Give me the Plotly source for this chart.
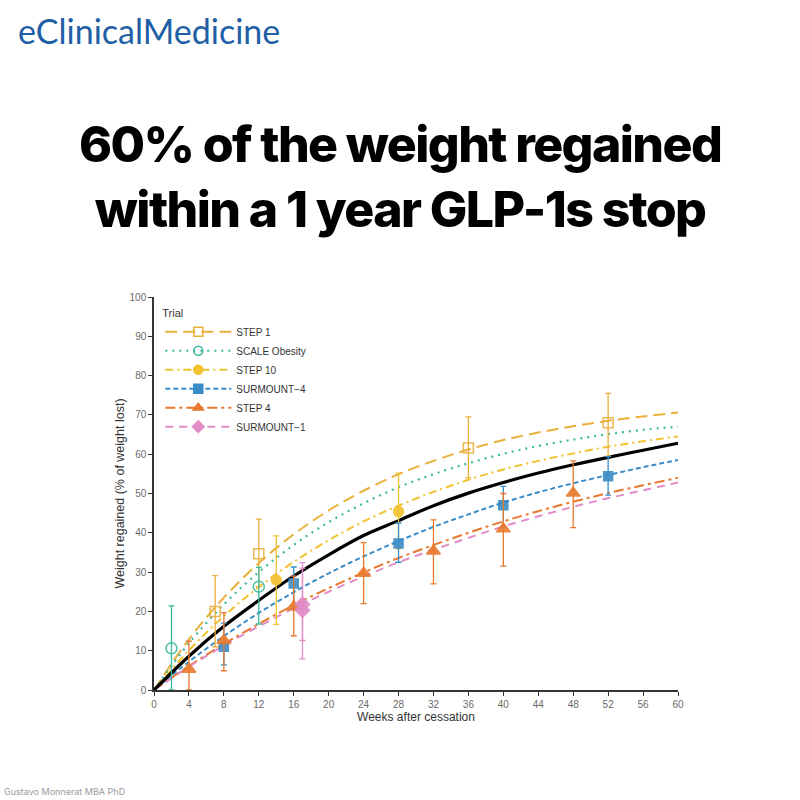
import plotly.graph_objects as go

# ---------------- data ----------------
weeks_grid = [0, 4, 8, 12, 16, 20, 24, 28, 32, 36, 40, 44, 48, 52, 56, 60]

# fitted curves
curve_step1 = [0, 12.9, 23.5, 32.3, 39.6, 45.7, 50.7, 54.9, 58.3, 61.2, 63.6, 65.5, 67.1, 68.5, 69.6, 70.6]
curve_scale = [0, 11.9, 21.8, 30.0, 36.9, 42.7, 47.5, 51.6, 54.9, 57.7, 60.1, 62.1, 63.7, 65.1, 66.2, 67.0]
curve_step10 = [0, 10.1, 18.8, 26.2, 32.6, 38.1, 42.9, 46.9, 50.4, 53.5, 56.1, 58.3, 60.2, 61.9, 63.3, 64.5]
curve_surmount4 = [0, 7.2, 13.7, 19.6, 24.9, 29.7, 34.0, 37.9, 41.5, 44.7, 47.7, 50.3, 52.6, 54.7, 56.7, 58.5]
curve_step4 = [0, 6.1, 11.7, 16.8, 21.6, 25.9, 29.9, 33.6, 36.9, 40.0, 42.9, 45.5, 47.9, 50.1, 52.1, 54.0]
curve_surmount1 = [0, 5.9, 11.3, 16.2, 20.8, 25.0, 28.9, 32.5, 35.7, 38.7, 41.6, 44.2, 46.6, 48.8, 50.8, 52.8]
curve_pooled = [0, 8.6, 16.2, 22.8, 29.0, 34.4, 39.3, 43.1, 46.9, 50.1, 52.8, 55.2, 57.3, 59.2, 61.0, 62.8]

# observed points (week, mean, lower, upper)
step1_wk = [7, 12, 36, 52]
step1_y = [20.0, 34.7, 61.6, 68.0]
step1_lo = [11.0, 26.3, 54.0, 59.5]
step1_hi = [29.1, 43.5, 69.5, 75.5]

scale_wk = [2, 12]
scale_y = [10.6, 26.3]
scale_lo = [0.0, 16.8]
scale_hi = [21.4, 31.2]

step10_wk = [14, 28]
step10_y = [28.0, 45.4]
step10_lo = [16.7, 36.0]
step10_hi = [39.2, 55.2]

surmount4_wk = [8, 16, 28, 40, 52]
surmount4_y = [11.0, 27.1, 37.3, 47.0, 54.4]
surmount4_lo = [6.4, 20.5, 32.5, 41.5, 49.6]
surmount4_hi = [17.0, 31.3, 42.5, 51.8, 59.4]

step4_wk = [4, 8, 16, 24, 32, 40, 48]
step4_y = [5.3, 12.6, 21.2, 29.7, 35.4, 41.0, 50.1]
step4_lo = [0.0, 4.9, 13.8, 22.0, 27.0, 31.5, 41.3]
step4_hi = [12.4, 19.7, 29.0, 37.5, 43.3, 50.0, 58.3]

surmount1_wk = [17, 17]
surmount1_y = [21.8, 20.3]
surmount1_lo = [12.6, 7.9]
surmount1_hi = [31.0, 32.4]

trial_names = ["STEP 1", "SCALE Obesity", "STEP 10", "SURMOUNT\u22124", "STEP 4", "SURMOUNT\u22121"]
x_ticks = list(range(0, 61, 4))
y_ticks = list(range(0, 101, 10))

title_line1 = "60% of the weight regained"
title_line2 = "within a 1 year GLP-1s stop"
brand = "eClinicalMedicine"
author = "Gustavo Monnerat MBA PhD"

# ---------------- styles ----------------
series = [
    dict(name=trial_names[0], curve=curve_step1, wk=step1_wk, y=step1_y, lo=step1_lo, hi=step1_hi,
         color="#E9B03C", dash="12px,6px", symbol="square-open", msize=10, lw=2),
    dict(name=trial_names[1], curve=curve_scale, wk=scale_wk, y=scale_y, lo=scale_lo, hi=scale_hi,
         color="#3DB89C", dash="2px,5px", symbol="circle-open", msize=11, lw=2.2),
    dict(name=trial_names[2], curve=curve_step10, wk=step10_wk, y=step10_y, lo=step10_lo, hi=step10_hi,
         color="#F2C12E", dash="8px,4px,2px,4px", symbol="circle", msize=10, lw=2),
    dict(name=trial_names[3], curve=curve_surmount4, wk=surmount4_wk, y=surmount4_y, lo=surmount4_lo, hi=surmount4_hi,
         color="#3A8CC6", dash="5px,3px", symbol="square", msize=9, lw=2),
    dict(name=trial_names[4], curve=curve_step4, wk=step4_wk, y=step4_y, lo=step4_lo, hi=step4_hi,
         color="#E8792E", dash="10px,4px,3px,4px", symbol="triangle-up", msize=12, lw=2),
    dict(name=trial_names[5], curve=curve_surmount1, wk=surmount1_wk, y=surmount1_y, lo=surmount1_lo, hi=surmount1_hi,
         color="#E18CC6", dash="8px,6px", symbol="diamond", msize=11, lw=2),
]

fig = go.Figure()

# curves
for s in series:
    fig.add_trace(go.Scatter(x=weeks_grid, y=s["curve"], mode="lines", line_shape="spline",
                             line=dict(color=s["color"], width=s["lw"], dash=s["dash"]),
                             showlegend=False, hoverinfo="skip"))

fig.add_trace(go.Scatter(x=weeks_grid, y=curve_pooled, mode="lines", line_shape="spline",
                         line=dict(color="#000000", width=3.2), showlegend=False))

# points with error bars
for s in series:
    plus = [h - m for h, m in zip(s["hi"], s["y"])]
    minus = [m - l for m, l in zip(s["y"], s["lo"])]
    fig.add_trace(go.Scatter(x=s["wk"], y=s["y"], mode="markers",
                             marker=dict(color=s["color"], size=s["msize"], symbol=s["symbol"],
                                         line=dict(color=s["color"], width=1.5), opacity=0.9),
                             error_y=dict(type="data", array=plus, arrayminus=minus, color=s["color"],
                                          thickness=1.3, width=3),
                             showlegend=False, cliponaxis=False))

# legend entries
for s in series:
    fig.add_trace(go.Scatter(x=[None], y=[None], mode="lines+markers", name=s["name"],
                             line=dict(color=s["color"], width=2, dash=s["dash"]),
                             marker=dict(color=s["color"], size=9, symbol=s["symbol"],
                                         line=dict(color=s["color"], width=1.5))))

axis_font = dict(family="Liberation Sans, Arial, sans-serif", size=10, color="#6a6a6a")

fig.update_layout(
    width=800, height=800,
    margin=dict(l=154, r=122, t=297, b=110),
    paper_bgcolor="white", plot_bgcolor="white",
    showlegend=True,
    legend=dict(x=0.012, y=0.985, xanchor="left", yanchor="top",
                title=dict(text="Trial", font=dict(family="Liberation Sans, Arial", size=11, color="#333")),
                font=dict(family="Liberation Sans, Arial, sans-serif", size=10, color="#333"),
                bgcolor="rgba(255,255,255,0)", itemwidth=66, tracegroupgap=0),
    xaxis=dict(range=[0, 60], tickvals=x_ticks, ticks="outside", ticklen=4, tickcolor="#333",
               showline=True, linecolor="#333", linewidth=1.5, showgrid=False, zeroline=False,
               tickfont=axis_font,
               title=dict(text="Weeks after cessation", standoff=2,
                          font=dict(family="Liberation Sans, Arial", size=12, color="#333"))),
    yaxis=dict(range=[0, 100], tickvals=y_ticks, ticks="outside", ticklen=4, tickcolor="#333",
               showline=True, linecolor="#333", linewidth=1.5, showgrid=False, zeroline=False,
               tickfont=axis_font,
               title=dict(text="Weight regained (% of weight lost)", standoff=2,
                          font=dict(family="Liberation Sans, Arial", size=12.5, color="#333"))),
)


def py(pixel_y):
    return (690 - pixel_y) / 393


def px(pixel_x):
    return (pixel_x - 154) / 524


# header brand
fig.add_annotation(xref="paper", yref="paper", x=px(16), y=py(30),
                   text=brand, showarrow=False, xanchor="left", yanchor="middle",
                   font=dict(family="Lato, Open Sans, sans-serif", size=34, color="#1F5FA6"))
# big title
title_font = dict(family="Inter, sans-serif", size=50, color="#000000", weight=800)
fig.add_annotation(xref="paper", yref="paper", x=px(400), y=py(176),
                   text=(f'<span style="letter-spacing:-1.6px">{title_line1}</span><br>'
                         f'<span style="letter-spacing:-1.6px">{title_line2}</span>'),
                   showarrow=False, xanchor="center", yanchor="middle", align="center",
                   font=title_font)
# footer
fig.add_annotation(xref="paper", yref="paper", x=px(2), y=py(784),
                   text=author, showarrow=False, xanchor="left", yanchor="top",
                   font=dict(family="Inter, sans-serif", size=9, color="#9a9a9a"))

fig.write_html("out.html")
